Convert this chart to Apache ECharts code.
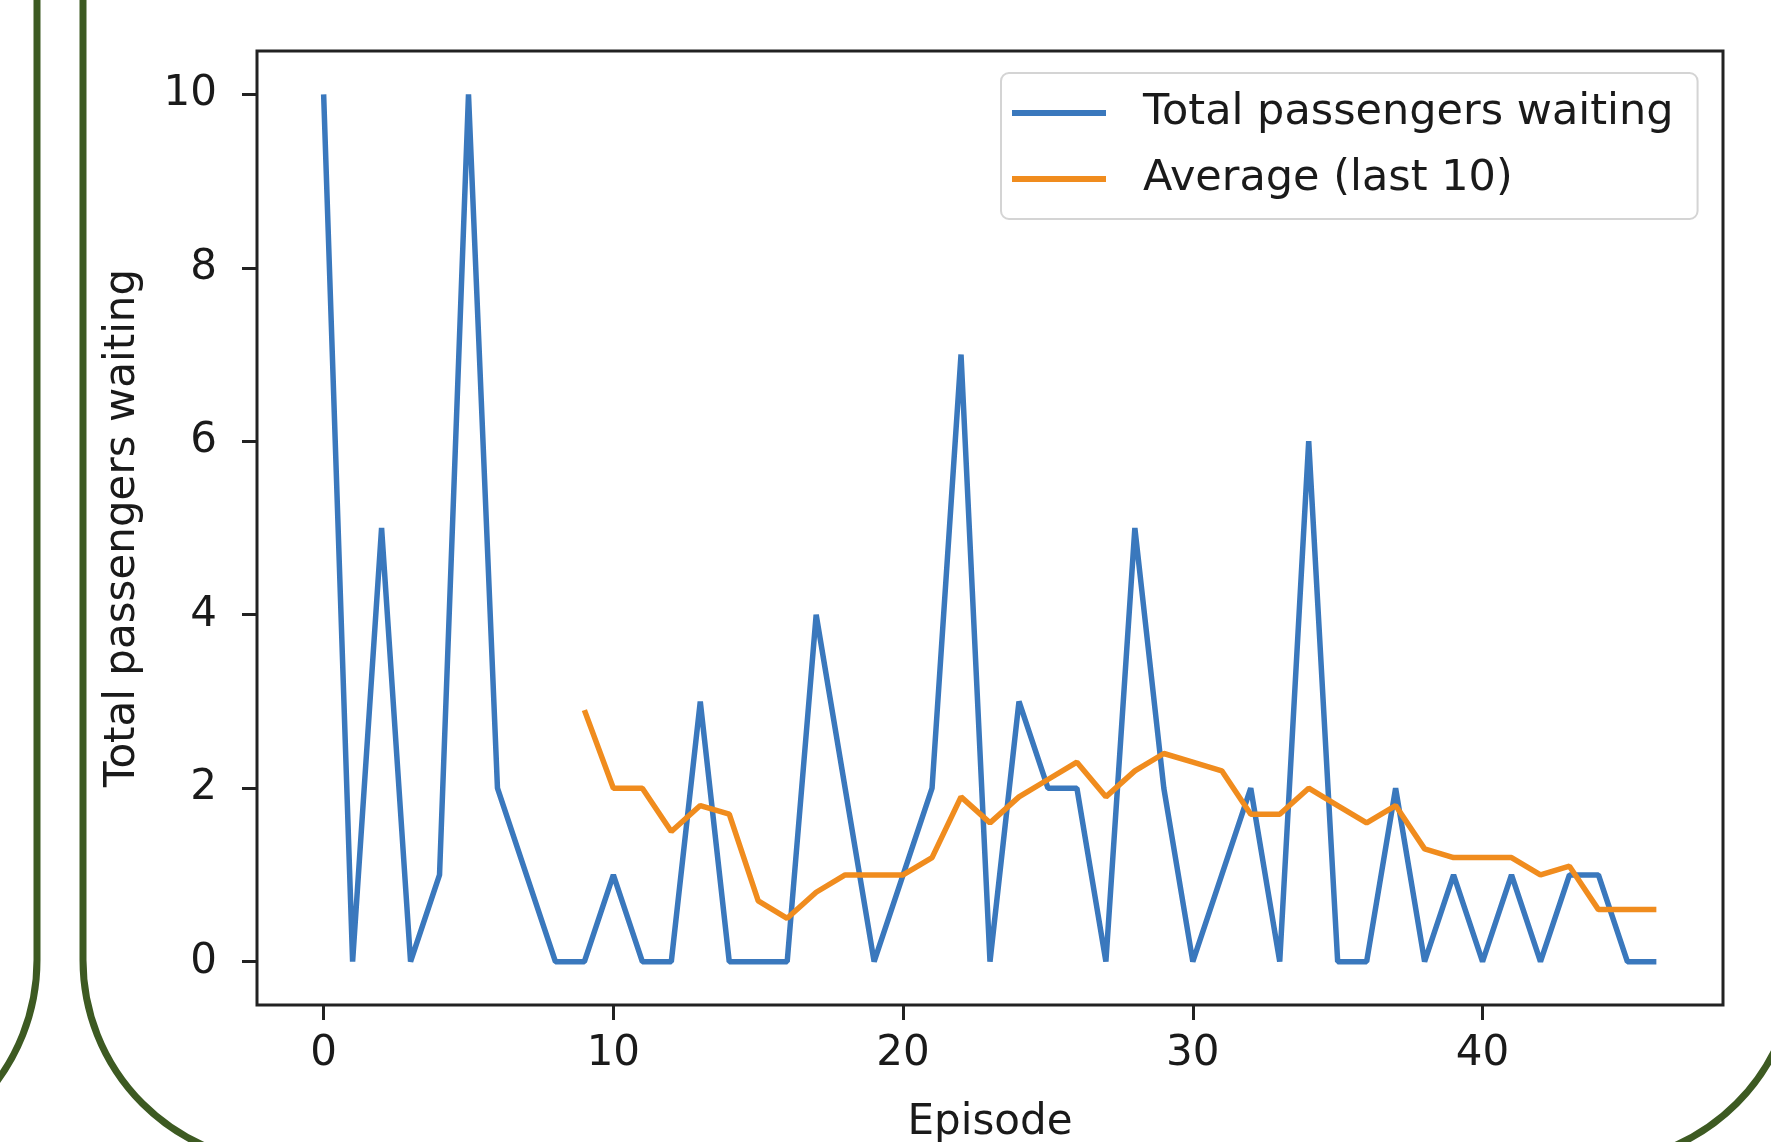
<!DOCTYPE html>
<html>
<head>
<meta charset="utf-8">
<script src="https://cdn.jsdelivr.net/npm/echarts@6/dist/echarts.min.js"></script>
<style>
html,body{margin:0;padding:0;background:#fff;}
#chart{width:1771px;height:1142px;}
</style>
</head>
<body>
<div id="chart"></div>
<script>
// Data
const episodes = [0,1,2,3,4,5,6,7,8,9,10,11,12,13,14,15,16,17,18,19,20,21,22,23,24,25,26,27,28,29,30,31,32,33,34,35,36,37,38,39,40,41,42,43,44,45,46];
const totalWaiting = [10,0,5,0,1,10,2,1,0,0,1,0,0,3,0,0,0,4,2,0,1,2,7,0,3,2,2,0,5,2,0,1,2,0,6,0,0,2,0,1,0,1,0,1,1,0,0];
const avgEpisodes = [9,10,11,12,13,14,15,16,17,18,19,20,21,22,23,24,25,26,27,28,29,30,31,32,33,34,35,36,37,38,39,40,41,42,43,44,45,46];
const avgLast10 = [2.9,2.0,2.0,1.5,1.8,1.7,0.7,0.5,0.8,1.0,1.0,1.0,1.2,1.9,1.6,1.9,2.1,2.3,1.9,2.2,2.4,2.3,2.2,1.7,1.7,2.0,1.8,1.6,1.8,1.3,1.2,1.2,1.2,1.0,1.1,0.6,0.6,0.6];
const xTicks = [0,10,20,30,40];
const yTicks = [0,2,4,6,8,10];
const seriesNames = ['Total passengers waiting','Average (last 10)'];

const FONT = 'DejaVu Sans';
const TXT = '#1a1a1a';
const AX = '#222222';
const GREEN = '#3d5a22';

const chart = echarts.init(document.getElementById('chart'), null, {renderer:'canvas'});

const option = {
  animation: false,
  backgroundColor: '#ffffff',
  textStyle: {fontFamily: FONT},
  graphic: [
    {type:'rect', z:0, silent:true, shape:{x:-400, y:-300, width:437, height:1463, r:203},
     style:{fill:'none', stroke:GREEN, lineWidth:7}},
    {type:'rect', z:0, silent:true, shape:{x:83, y:-300, width:1713, height:1463, r:203},
     style:{fill:'none', stroke:GREEN, lineWidth:7}}
  ],
  grid: {left:257, top:51, width:1466, height:954, show:true, borderColor:AX, borderWidth:3, backgroundColor:'#ffffff', containLabel:false, outerBoundsMode:'none'},
  legend: {
    data: seriesNames,
    orient: 'vertical',
    left: 1001, top: 73,
    icon: 'rect',
    itemWidth: 94, itemHeight: 6, itemGap: 16,
    padding: [15, 24, 15, 11],
    backgroundColor: 'rgba(255,255,255,0.85)',
    borderColor: '#d4d4d4', borderWidth: 2, borderRadius: 8,
    textStyle: {fontFamily: FONT, fontSize: 43, color: TXT, lineHeight: 50, padding:[0,0,0,32]}
  },
  xAxis: {
    type:'value', min:-2.3, max:48.3,
    name:'Episode', nameLocation:'middle', nameGap:97,
    nameTextStyle:{fontFamily:FONT, fontSize:42, color:TXT},
    axisLine:{show:false, onZero:false},
    splitLine:{show:false},
    axisTick:{show:true, inside:false, customValues:xTicks, length:15, lineStyle:{color:AX, width:3}},
    axisLabel:{customValues:xTicks, fontFamily:FONT, fontSize:42, color:TXT, margin:28}
  },
  yAxis: {
    type:'value', min:-0.5, max:10.5,
    name:'Total passengers waiting', nameLocation:'middle', nameGap:113, nameRotate:90,
    nameTextStyle:{fontFamily:FONT, fontSize:42, color:TXT},
    axisLine:{show:false, onZero:false},
    splitLine:{show:false},
    axisTick:{show:true, inside:false, customValues:yTicks, length:15, lineStyle:{color:AX, width:3}},
    axisLabel:{customValues:yTicks, fontFamily:FONT, fontSize:42, color:TXT, margin:40}
  },
  series: [
    {name:seriesNames[0], type:'line', showSymbol:false, symbol:'none',
     data: episodes.map((e,i)=>[e,totalWaiting[i]]),
     itemStyle:{color:'#3a78bd'}, lineStyle:{color:'#3a78bd', width:5.5}, z:2},
    {name:seriesNames[1], type:'line', showSymbol:false, symbol:'none',
     data: avgEpisodes.map((e,i)=>[e,avgLast10[i]]),
     itemStyle:{color:'#f08c1e'}, lineStyle:{color:'#f08c1e', width:5.5}, z:3}
  ]
};
chart.setOption(option);
</script>
</body>
</html>
